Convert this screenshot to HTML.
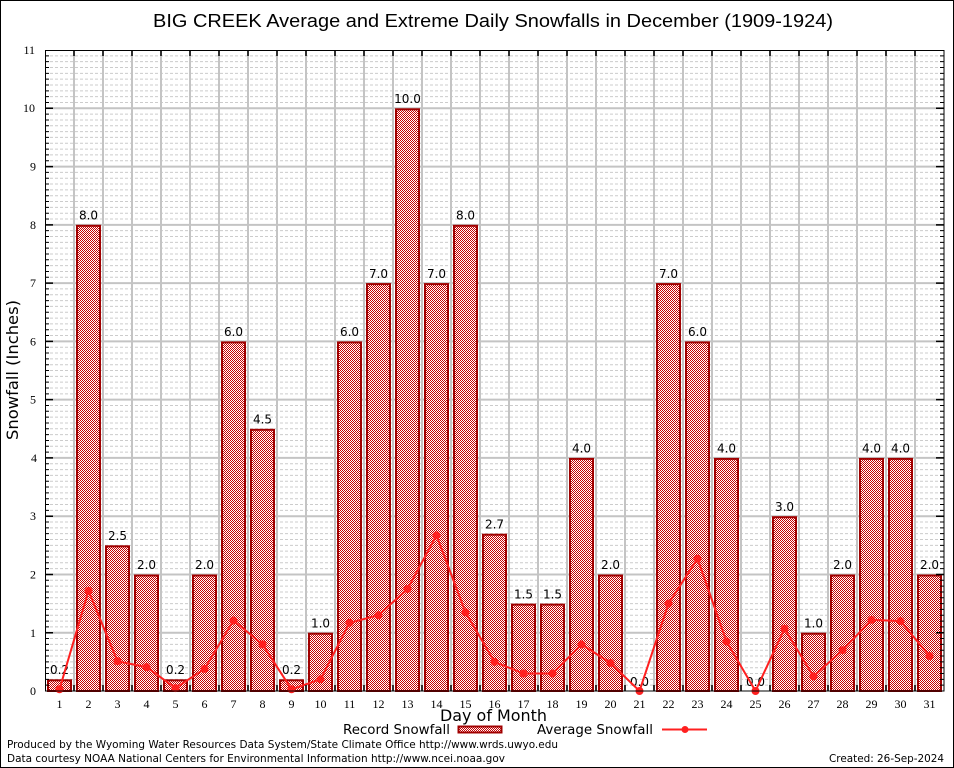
<!DOCTYPE html>
<html>
<head>
<meta charset="utf-8">
<style>
  html,body{margin:0;padding:0;background:#fff;}
  svg{display:block;}
  .tk{font-family:"Liberation Serif","DejaVu Serif",serif;font-size:12px;fill:#000;}
  .bl{font-family:"DejaVu Sans","Liberation Sans",sans-serif;font-size:12px;fill:#000;text-anchor:middle;}
  .ss{font-family:"DejaVu Sans","Liberation Sans",sans-serif;fill:#000;}
</style>
</head>
<body>
<svg width="954" height="768" viewBox="0 0 954 768" xmlns="http://www.w3.org/2000/svg">
  <defs>
    <pattern id="chk" width="2" height="2" patternUnits="userSpaceOnUse">
      <rect width="2" height="2" fill="#fff"/>
      <rect x="0" y="0" width="1" height="1" fill="#c80000"/>
      <rect x="1" y="1" width="1" height="1" fill="#c80000"/>
    </pattern>
    <g id="minor">
      <line x1="45" x2="944" y1="-5.83" y2="-5.83"/>
      <line x1="45" x2="944" y1="-11.65" y2="-11.65"/>
      <line x1="45" x2="944" y1="-17.48" y2="-17.48"/>
      <line x1="45" x2="944" y1="-23.31" y2="-23.31"/>
      <line x1="45" x2="944" y1="-29.14" y2="-29.14"/>
      <line x1="45" x2="944" y1="-34.96" y2="-34.96"/>
      <line x1="45" x2="944" y1="-40.79" y2="-40.79"/>
      <line x1="45" x2="944" y1="-46.62" y2="-46.62"/>
      <line x1="45" x2="944" y1="-52.45" y2="-52.45"/>
    </g>
    <g id="mtick">
      <path d="M45 -5.83h4M45 -11.65h4M45 -17.48h4M45 -23.31h4M45 -29.14h4M45 -34.96h4M45 -40.79h4M45 -46.62h4M45 -52.45h4M940 -5.83h4M940 -11.65h4M940 -17.48h4M940 -23.31h4M940 -29.14h4M940 -34.96h4M940 -40.79h4M940 -46.62h4M940 -52.45h4"/>
    </g>
  </defs>

  <rect x="0" y="0" width="954" height="768" fill="#fff"/>

  <!-- minor dashed horizontal grid -->
  <g stroke="#cccccc" stroke-width="1" stroke-dasharray="3,2">
    <use href="#minor" transform="translate(0,691)"/>
    <use href="#minor" transform="translate(0,632.73)"/>
    <use href="#minor" transform="translate(0,574.46)"/>
    <use href="#minor" transform="translate(0,516.19)"/>
    <use href="#minor" transform="translate(0,457.92)"/>
    <use href="#minor" transform="translate(0,399.65)"/>
    <use href="#minor" transform="translate(0,341.38)"/>
    <use href="#minor" transform="translate(0,283.11)"/>
    <use href="#minor" transform="translate(0,224.84)"/>
    <use href="#minor" transform="translate(0,166.57)"/>
    <use href="#minor" transform="translate(0,108.3)"/>
  </g>

  <!-- major horizontal grid -->
  <g stroke="#c4c4c4" stroke-width="2">
    <line x1="45" x2="944" y1="632.73" y2="632.73"/>
    <line x1="45" x2="944" y1="574.46" y2="574.46"/>
    <line x1="45" x2="944" y1="516.19" y2="516.19"/>
    <line x1="45" x2="944" y1="457.92" y2="457.92"/>
    <line x1="45" x2="944" y1="399.65" y2="399.65"/>
    <line x1="45" x2="944" y1="341.38" y2="341.38"/>
    <line x1="45" x2="944" y1="283.11" y2="283.11"/>
    <line x1="45" x2="944" y1="224.84" y2="224.84"/>
    <line x1="45" x2="944" y1="166.57" y2="166.57"/>
    <line x1="45" x2="944" y1="108.3" y2="108.3"/>
  </g>

  <!-- vertical grid -->
  <path stroke="#c4c4c4" stroke-width="2" d="M74 50V691M103 50V691M132 50V691M161 50V691M190 50V691M219 50V691M248 50V691M277 50V691M306 50V691M335 50V691M364 50V691M393 50V691M422 50V691M451 50V691M480 50V691M509 50V691M538 50V691M567 50V691M596 50V691M625 50V691M654 50V691M683 50V691M712 50V691M741 50V691M770 50V691M799 50V691M828 50V691M857 50V691M886 50V691M915 50V691"/>

  <!-- bars -->
  <g fill="url(#chk)" stroke="#a00000" stroke-width="2">
    <rect x="48" y="680.3" width="23" height="10.7"/>
    <rect x="77" y="225.8" width="23" height="465.2"/>
    <rect x="106" y="546.3" width="23" height="144.7"/>
    <rect x="135" y="575.5" width="23" height="115.5"/>
    <rect x="164" y="680.3" width="23" height="10.7"/>
    <rect x="193" y="575.5" width="23" height="115.5"/>
    <rect x="222" y="342.4" width="23" height="348.6"/>
    <rect x="251" y="429.8" width="23" height="261.2"/>
    <rect x="280" y="680.3" width="23" height="10.7"/>
    <rect x="309" y="633.7" width="23" height="57.3"/>
    <rect x="338" y="342.4" width="23" height="348.6"/>
    <rect x="367" y="284.1" width="23" height="406.9"/>
    <rect x="396" y="109.3" width="23" height="581.7"/>
    <rect x="425" y="284.1" width="23" height="406.9"/>
    <rect x="454" y="225.8" width="23" height="465.2"/>
    <rect x="483" y="534.7" width="23" height="156.3"/>
    <rect x="512" y="604.6" width="23" height="86.4"/>
    <rect x="541" y="604.6" width="23" height="86.4"/>
    <rect x="570" y="458.9" width="23" height="232.1"/>
    <rect x="599" y="575.5" width="23" height="115.5"/>
    <rect x="657" y="284.1" width="23" height="406.9"/>
    <rect x="686" y="342.4" width="23" height="348.6"/>
    <rect x="715" y="458.9" width="23" height="232.1"/>
    <rect x="773" y="517.2" width="23" height="173.8"/>
    <rect x="802" y="633.7" width="23" height="57.3"/>
    <rect x="831" y="575.5" width="23" height="115.5"/>
    <rect x="860" y="458.9" width="23" height="232.1"/>
    <rect x="889" y="458.9" width="23" height="232.1"/>
    <rect x="918" y="575.5" width="23" height="115.5"/>
  </g>

  <!-- bar labels -->
  <g class="bl">
    <text x="59.5" y="674">0.2</text>
    <text x="88.5" y="219.5">8.0</text>
    <text x="117.5" y="540">2.5</text>
    <text x="146.5" y="569">2.0</text>
    <text x="175.5" y="674">0.2</text>
    <text x="204.5" y="569">2.0</text>
    <text x="233.5" y="336">6.0</text>
    <text x="262.5" y="423.5">4.5</text>
    <text x="291.5" y="674">0.2</text>
    <text x="320.5" y="627.5">1.0</text>
    <text x="349.5" y="336">6.0</text>
    <text x="378.5" y="278">7.0</text>
    <text x="407.5" y="103">10.0</text>
    <text x="436.5" y="278">7.0</text>
    <text x="465.5" y="219.5">8.0</text>
    <text x="494.5" y="528.5">2.7</text>
    <text x="523.5" y="598.5">1.5</text>
    <text x="552.5" y="598.5">1.5</text>
    <text x="581.5" y="452.5">4.0</text>
    <text x="610.5" y="569">2.0</text>
    <text x="639.5" y="686">0.0</text>
    <text x="668.5" y="278">7.0</text>
    <text x="697.5" y="336">6.0</text>
    <text x="726.5" y="452.5">4.0</text>
    <text x="755.5" y="686">0.0</text>
    <text x="784.5" y="511">3.0</text>
    <text x="813.5" y="627.5">1.0</text>
    <text x="842.5" y="569">2.0</text>
    <text x="871.5" y="452.5">4.0</text>
    <text x="900.5" y="452.5">4.0</text>
    <text x="929.5" y="569">2.0</text>
  </g>

  <!-- average line -->
  <polyline fill="none" stroke="#ff2020" stroke-width="2" stroke-linejoin="round"
    points="59.5,689.3 88.5,590.8 117.5,661.3 146.5,667.1 175.5,688.1 204.5,668.9 233.5,620.5 262.5,644.4 291.5,689.3 320.5,679.3 349.5,622.8 378.5,615.2 407.5,589 436.5,535.4 465.5,612.3 494.5,661.9 523.5,673.5 552.5,673.5 581.5,644.4 610.5,663 639.5,691 668.5,603.6 697.5,558.7 726.5,641.5 755.5,691 784.5,628.7 813.5,676.4 842.5,650.2 871.5,619.9 900.5,621.1 929.5,656"/>
  <g fill="#ff2020">
    <circle cx="59.5" cy="689.3" r="4"/><circle cx="88.5" cy="590.8" r="4"/><circle cx="117.5" cy="661.3" r="4"/><circle cx="146.5" cy="667.1" r="4"/><circle cx="175.5" cy="688.1" r="4"/><circle cx="204.5" cy="668.9" r="4"/><circle cx="233.5" cy="620.5" r="4"/><circle cx="262.5" cy="644.4" r="4"/><circle cx="291.5" cy="689.3" r="4"/><circle cx="320.5" cy="679.3" r="4"/><circle cx="349.5" cy="622.8" r="4"/><circle cx="378.5" cy="615.2" r="4"/><circle cx="407.5" cy="589" r="4"/><circle cx="436.5" cy="535.4" r="4"/><circle cx="465.5" cy="612.3" r="4"/><circle cx="494.5" cy="661.9" r="4"/><circle cx="523.5" cy="673.5" r="4"/><circle cx="552.5" cy="673.5" r="4"/><circle cx="581.5" cy="644.4" r="4"/><circle cx="610.5" cy="663" r="4"/><circle cx="639.5" cy="691" r="4"/><circle cx="668.5" cy="603.6" r="4"/><circle cx="697.5" cy="558.7" r="4"/><circle cx="726.5" cy="641.5" r="4"/><circle cx="755.5" cy="691" r="4"/><circle cx="784.5" cy="628.7" r="4"/><circle cx="813.5" cy="676.4" r="4"/><circle cx="842.5" cy="650.2" r="4"/><circle cx="871.5" cy="619.9" r="4"/><circle cx="900.5" cy="621.1" r="4"/><circle cx="929.5" cy="656" r="4"/>
  </g>

  <!-- axes frame -->
  <rect x="45.5" y="50.5" width="898.5" height="640.5" fill="none" stroke="#000" stroke-width="1"/>

  <!-- y minor ticks -->
  <g stroke="#000" stroke-width="1">
    <use href="#mtick" transform="translate(0,691)"/>
    <use href="#mtick" transform="translate(0,632.73)"/>
    <use href="#mtick" transform="translate(0,574.46)"/>
    <use href="#mtick" transform="translate(0,516.19)"/>
    <use href="#mtick" transform="translate(0,457.92)"/>
    <use href="#mtick" transform="translate(0,399.65)"/>
    <use href="#mtick" transform="translate(0,341.38)"/>
    <use href="#mtick" transform="translate(0,283.11)"/>
    <use href="#mtick" transform="translate(0,224.84)"/>
    <use href="#mtick" transform="translate(0,166.57)"/>
    <use href="#mtick" transform="translate(0,108.3)"/>
  </g>
  <!-- y major ticks -->
  <path stroke="#000" stroke-width="1.5" d="M45 632.73h8M45 574.46h8M45 516.19h8M45 457.92h8M45 399.65h8M45 341.38h8M45 283.11h8M45 224.84h8M45 166.57h8M45 108.3h8M936 632.73h8M936 574.46h8M936 516.19h8M936 457.92h8M936 399.65h8M936 341.38h8M936 283.11h8M936 224.84h8M936 166.57h8M936 108.3h8"/>
  <!-- x ticks top/bottom -->
  <path stroke="#000" stroke-width="1.5" d="M74 691v-6M103 691v-6M132 691v-6M161 691v-6M190 691v-6M219 691v-6M248 691v-6M277 691v-6M306 691v-6M335 691v-6M364 691v-6M393 691v-6M422 691v-6M451 691v-6M480 691v-6M509 691v-6M538 691v-6M567 691v-6M596 691v-6M625 691v-6M654 691v-6M683 691v-6M712 691v-6M741 691v-6M770 691v-6M799 691v-6M828 691v-6M857 691v-6M886 691v-6M915 691v-6M74 50v6M103 50v6M132 50v6M161 50v6M190 50v6M219 50v6M248 50v6M277 50v6M306 50v6M335 50v6M364 50v6M393 50v6M422 50v6M451 50v6M480 50v6M509 50v6M538 50v6M567 50v6M596 50v6M625 50v6M654 50v6M683 50v6M712 50v6M741 50v6M770 50v6M799 50v6M828 50v6M857 50v6M886 50v6M915 50v6"/>

  <!-- y tick labels -->
  <g class="tk" text-anchor="end">
    <text x="36" y="695">0</text>
    <text x="36" y="637">1</text>
    <text x="36" y="578.5">2</text>
    <text x="36" y="520">3</text>
    <text x="37" y="462">4</text>
    <text x="36" y="403.5">5</text>
    <text x="36" y="345.5">6</text>
    <text x="36" y="287">7</text>
    <text x="36" y="229">8</text>
    <text x="36" y="170.5">9</text>
    <text x="35" y="112">10</text>
    <text x="35" y="54">11</text>
  </g>

  <!-- x tick labels -->
  <g class="tk" text-anchor="middle">
    <text x="59.5" y="708">1</text><text x="88.5" y="708">2</text><text x="117.5" y="708">3</text><text x="146.5" y="708">4</text><text x="175.5" y="708">5</text><text x="204.5" y="708">6</text><text x="233.5" y="708">7</text><text x="262.5" y="708">8</text><text x="291.5" y="708">9</text><text x="320.5" y="708">10</text><text x="349.5" y="708">11</text><text x="378.5" y="708">12</text><text x="407.5" y="708">13</text><text x="436.5" y="708">14</text><text x="465.5" y="708">15</text><text x="494.5" y="708">16</text><text x="523.5" y="708">17</text><text x="552.5" y="708">18</text><text x="581.5" y="708">19</text><text x="610.5" y="708">20</text><text x="639.5" y="708">21</text><text x="668.5" y="708">22</text><text x="697.5" y="708">23</text><text x="726.5" y="708">24</text><text x="755.5" y="708">25</text><text x="784.5" y="708">26</text><text x="813.5" y="708">27</text><text x="842.5" y="708">28</text><text x="871.5" y="708">29</text><text x="900.5" y="708">30</text><text x="929.5" y="708">31</text>
  </g>

  <!-- title -->
  <text x="153" y="27" font-family="'Liberation Sans', sans-serif" font-size="18" textLength="680" lengthAdjust="spacingAndGlyphs" fill="#000">BIG CREEK Average and Extreme Daily Snowfalls in December (1909-1924)</text>

  <!-- axis titles -->
  <text class="ss" x="440" y="721" font-size="16" textLength="107" lengthAdjust="spacingAndGlyphs">Day of Month</text>
  <text class="ss" transform="translate(18,440) rotate(-90)" x="0" y="0" font-size="16" textLength="140" lengthAdjust="spacingAndGlyphs">Snowfall (Inches)</text>

  <!-- legend -->
  <text class="ss" x="343" y="734" font-size="13" textLength="107" lengthAdjust="spacingAndGlyphs">Record Snowfall</text>
  <rect x="458.5" y="726.5" width="43" height="6" fill="url(#chk)" stroke="#a00000" stroke-width="2"/>
  <text class="ss" x="537" y="734" font-size="13" textLength="116" lengthAdjust="spacingAndGlyphs">Average Snowfall</text>
  <line x1="662" x2="707" y1="729.5" y2="729.5" stroke="#ff2020" stroke-width="2"/>
  <circle cx="685" cy="729.5" r="3.5" fill="#ff2020"/>

  <!-- footer -->
  <text class="ss" x="7" y="748" font-size="11" textLength="551" lengthAdjust="spacingAndGlyphs">Produced by the Wyoming Water Resources Data System/State Climate Office http://www.wrds.uwyo.edu</text>
  <text class="ss" x="7" y="762" font-size="11" textLength="498" lengthAdjust="spacingAndGlyphs">Data courtesy NOAA National Centers for Environmental Information http://www.ncei.noaa.gov</text>
  <text class="ss" x="829" y="762" font-size="11" textLength="115" lengthAdjust="spacingAndGlyphs">Created: 26-Sep-2024</text>

  <!-- outer border -->
  <rect x="0.5" y="0.5" width="953" height="767" fill="none" stroke="#000" stroke-width="1"/>
</svg>
</body>
</html>
